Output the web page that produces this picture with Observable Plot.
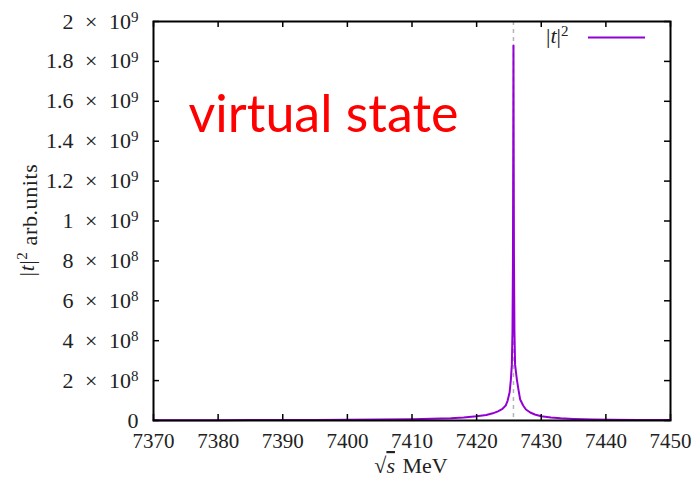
<!DOCTYPE html>
<html><head><meta charset="utf-8">
<script src="https://cdn.jsdelivr.net/npm/d3@7"></script>
<script src="https://cdn.jsdelivr.net/npm/@observablehq/plot@0.6"></script>
<style>
html,body{margin:0;padding:0;background:#fff;}
</style></head><body><div id="chart"></div>
<script>
// --- data ---
const sqrtS = [7370, 7375, 7380, 7385, 7390, 7395, 7400, 7405, 7410, 7413, 7416, 7418, 7420, 7421.5, 7422.5, 7423.3, 7424, 7424.5, 7424.8, 7425.1, 7425.3, 7425.45, 7425.55, 7425.62, 7425.67, 7425.7, 7425.73, 7425.78, 7425.85, 7425.95, 7426.23, 7426.5, 7426.74, 7427.2, 7427.63, 7428.3, 7429, 7430, 7431.5, 7433, 7435, 7438, 7441, 7445, 7450];
const t2 = [1.2e6, 1.4e6, 1.7e6, 2.0e6, 2.4e6, 3.0e6, 3.7e6, 4.8e6, 6.5e6, 8.5e6, 1.15e7, 1.5e7, 2.1e7, 2.8e7, 3.6e7, 4.6e7, 5.8e7, 7.5e7, 1.0e8, 1.4e8, 2.05e8, 2.8e8, 4.5e8, 8.0e8, 1.4e9, 1.88e9, 1.4e9, 8.0e8, 4.5e8, 2.8e8, 2.05e8, 1.5e8, 1.05e8, 7.5e7, 5.5e7, 4.0e7, 3.0e7, 2.1e7, 1.5e7, 1.1e7, 8.0e6, 5.5e6, 4.0e6, 3.0e6, 2.2e6];
const xTicks = [7370, 7380, 7390, 7400, 7410, 7420, 7430, 7440, 7450];
const yTicks = [0, 2e8, 4e8, 6e8, 8e8, 1e9, 1.2e9, 1.4e9, 1.6e9, 1.8e9, 2e9];
const yTickLabels = ["0", "2 × 10^8", "4 × 10^8", "6 × 10^8", "8 × 10^8", "1 × 10^9", "1.2 × 10^9", "1.4 × 10^9", "1.6 × 10^9", "1.8 × 10^9", "2 × 10^9"];
const peakMarker = [7425.7];
const annotation = "virtual state";

// --- layout ---
const W = 691, H = 485, mL = 153, mR = 21, mT = 21, mB = 65;
const iW = W - mL - mR, iH = H - mT - mB;
const purple = "#9400d3";
const font = "'Liberation Serif', serif";
const data = sqrtS.map((x, i) => ({x, y: t2[i]}));

const svg = Plot.plot({
  width: W, height: H,
  marginLeft: mL, marginRight: mR, marginTop: mT, marginBottom: mB,
  style: {fontFamily: font, fontSize: "21px", color: "#222", background: "#fff", overflow: "visible"},
  x: {domain: [7370, 7450]},
  y: {domain: [0, 2e9]},
  marks: [
    Plot.ruleX(peakMarker, {x: d => d, stroke: "#b4b4b4", strokeWidth: 1.5, strokeDasharray: "4,4"}),
    Plot.line(data, {x: "x", y: "y", stroke: purple, strokeWidth: 2}),
    Plot.tickX(xTicks, {x: d => d, stroke: "#000", strokeWidth: 1.5, insetTop: iH - 6}),
    Plot.tickX(xTicks, {x: d => d, stroke: "#000", strokeWidth: 1.5, insetBottom: iH - 6}),
    Plot.tickY(yTicks, {y: d => d, stroke: "#000", strokeWidth: 1.5, insetRight: iW - 6}),
    Plot.tickY(yTicks, {y: d => d, stroke: "#000", strokeWidth: 1.5, insetLeft: iW - 6}),
    Plot.frame({stroke: "#000", strokeWidth: 2}),
    Plot.axisX({ticks: xTicks, tickSize: 0, tickPadding: 13, label: null, fontSize: 21, tickFormat: d => String(d)}),
    Plot.axisY({ticks: yTicks, tickSize: 0, tickPadding: 15, label: null, fontSize: 22, tickFormat: d => yTickLabels[yTicks.indexOf(d)]}),
    Plot.text([annotation], {frameAnchor: "top-left", dx: 35, dy: 110, text: d => d, textAnchor: "start", lineAnchor: "bottom", fill: "#ff0000", fontSize: 52, fontFamily: "Lato"})
  ]
});
document.getElementById("chart").appendChild(svg);

const ns = "http://www.w3.org/2000/svg";
function el(name, attrs, parent, txt) {
  const e = document.createElementNS(ns, name);
  for (const k in attrs) e.setAttribute(k, attrs[k]);
  if (txt != null) e.textContent = txt;
  if (parent) parent.appendChild(e);
  return e;
}
// math-style y tick labels: a × 10^b
svg.querySelectorAll('g[aria-label="y-axis tick label"] text').forEach(t => {
  const s = t.textContent;
  if (s.includes("^")) {
    const [b, e] = s.split("^");
    const [m, p] = b.split(" × ");
    t.textContent = m;
    el("tspan", {dx: 6}, t, " ×");
    el("tspan", {dx: 6}, t, " " + p);
    el("tspan", {dy: "-0.45em", "font-size": "15px"}, t, e);
  }
});
// x label: √s MeV
const xl = el("text", {x: 411, y: 473, "text-anchor": "middle", "font-family": font, "font-size": 22, fill: "#222"}, svg);
el("tspan", {}, xl, "√");
el("tspan", {"font-style": "italic", style: "text-decoration: overline"}, xl, "s");
el("tspan", {dx: 2}, xl, " MeV");
// y label: |t|^2 arb.units
const yg = el("g", {transform: "translate(34,220) rotate(-90)"}, svg);
const yl = el("text", {x: 0, y: 0, "text-anchor": "middle", "font-family": font, "font-size": 22, fill: "#222", "letter-spacing": "0.6"}, yg);
el("tspan", {}, yl, "|");
el("tspan", {"font-style": "italic"}, yl, "t");
el("tspan", {}, yl, "|");
el("tspan", {dy: "-0.45em", "font-size": "15px"}, yl, "2");
el("tspan", {dy: "0.45em"}, yl, " arb.units");
// legend
const lg = el("text", {x: 546, y: 43, "text-anchor": "start", "font-family": font, "font-size": 22, fill: "#222"}, svg);
el("tspan", {}, lg, "|");
el("tspan", {"font-style": "italic"}, lg, "t");
el("tspan", {}, lg, "|");
el("tspan", {dy: "-0.45em", "font-size": "15px"}, lg, "2");
el("line", {x1: 588, x2: 645, y1: 37.5, y2: 37.5, stroke: purple, "stroke-width": 2}, svg);
</script></body></html>
